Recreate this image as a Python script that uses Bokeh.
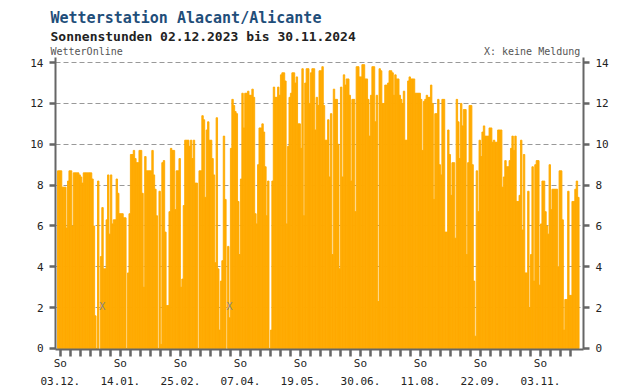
import numpy as np
from bokeh.plotting import figure
from bokeh.models import Range1d, FixedTicker, LinearAxis, Title, ColumnDataSource
from bokeh.embed import file_html
from bokeh.resources import INLINE
from bokeh.core.properties import value

title_text = "Wetterstation Alacant/Alicante"
subtitle_text = "Sonnenstunden 02.12.2023 bis 30.11.2024"
source_text = "WetterOnline"
missing_text = "X: keine Meldung"

# daily sunshine hours from 02.12.2023 (None = keine Meldung)
sun_hours = [
    8.7, 8.7, 8.7, 7.9, 7.9, 7.9, 5.9, 8.2, 8.7, 8.7, 6.0, 8.6, 8.6, 8.6, 8.6, 8.5, 8.4, 8.1, 8.6, 8.6,
    8.6, 8.6, 8.6, 8.6, 8.3, 6.0, 1.6, 0.0, 8.2, None,
    4.5, 6.9, 3.9, 3.9, 6.3, 8.5, 5.6, 8.5, 6.1, 6.3, 6.3, 8.3, 7.6, 6.6, 6.6, 6.6, 6.4, 6.4, 0.0, 3.7,
    6.6, 9.5, 9.5, 9.7, 9.3, 9.1, 9.1, 9.7, 9.7, 7.6, 3.0,
    9.4, 8.7, 8.7, 8.7, 8.7, 9.7, 8.5, 7.8, 6.5, 0.0, 7.7, 0.2, 9.1, 9.2, 5.7, 2.1, 2.1, 6.7, 9.8, 9.7,
    9.7, 6.8, 8.7, 8.7, 9.3, 3.0, 3.4, 7.0, 10.2, 10.2, 10.2, 9.9,
    10.2, 9.3, 10.2, 8.1, 8.1, 0.0, 8.7, 8.7, 11.4, 11.2, 7.4, 10.7, 11.1, 10.2, 10.2, 9.3, 8.5, 4.2,
    11.3, 3.9, 0.9, 3.3, 4.3, 10.4, 7.3, None, 5.0, 1.5, 9.8, 12.2,
    11.9, 11.6, 11.5, 7.2, 4.6, 8.3, 12.5, 10.8, 12.5, 12.5, 12.6, 12.4, 12.4, 12.7, 12.3, 6.6, 6.1, 9.0,
    10.8, 10.8, 11.0, 10.6, 8.9, 6.5, 8.2, 0.0, 0.9, 8.2, 12.8, 12.3, 12.3, 12.8,
    12.4, 13.4, 13.5, 13.5, 13.1, 6.1, 9.9, 12.3, 12.5, 13.5, 13.5, 13.0, 13.3, 11.0, 11.0, 9.8, 13.7,
    6.5, 13.0, 13.7, 13.7, 12.0, 13.5, 13.7, 13.7, 10.7, 12.3, 11.9, 13.6, 13.6, 13.8,
    11.9, 10.2, 10.2, 11.2, 8.4, 11.5, 4.6, 12.7, 12.2, 12.2, 10.0, 3.9, 12.8, 8.4, 13.4, 12.9, 13.2,
    13.2, 12.4, 8.2, 12.2, 12.2, 6.7, 13.8, 13.8, 13.3, 13.3, 13.9, 13.9, 13.2, 13.2, 12.2,
    10.4, 12.4, 13.8, 13.8, 11.1, 12.4, 2.3, 13.7, 13.6, 12.0, 12.0, 12.9, 12.9, 13.0, 13.6, 13.6, 13.5,
    12.4, 13.4, 13.2, 13.2, 12.4, 12.2, 12.0, 12.6, 10.2, 10.2, 13.1, 13.3, 13.2, 13.2,
    13.2, 12.5, 12.5, 12.5, 12.5, 12.2, 9.7, 12.1, 12.2, 12.4, 12.3, 12.3, 12.9, 12.0, 7.3, 11.5, 11.5,
    12.2, 9.0, 8.5, 12.2, 12.2, 5.7, 5.7, 10.7, 9.5, 7.5, 9.1, 9.1, 5.4, 12.2, 11.1,
    9.3, 12.0, 10.9, 11.7, 11.7, 4.6, 9.1, 11.9, 11.9, 9.0, 3.3, 0.6, 8.7, 6.7, 10.2, 9.4, 10.6, 10.9,
    10.4, 10.4, 10.4, 10.8, 10.8, 10.1, 10.2, 10.1, 10.1, 10.7, 10.7, 10.7, 7.9,
    8.4, 9.2, 8.9, 8.9, 9.2, 9.8, 10.4, 9.7, 10.4, 7.2, 7.2, 7.5, 10.2, 5.8, 9.5, 3.7, 3.7, 7.7, 2.0,
    4.6, 8.9, 3.3, 9.0, 9.2, 9.2, 3.1, 6.1, 8.2, 8.2, 6.7, 6.0,
    5.6, 9.0, 6.8, 7.8, 7.8, 7.8, 7.8, 4.0, 8.7, 8.7, 6.3, 0.9, 2.4, 2.4, 7.7, 2.6, 2.6, 7.2, 7.2, 7.8,
    8.2, 7.4,
]

# Sunday labels, one every six weeks, starting with the first Sunday (03.12.2023)
tick_labels = ["So\n03.12.", "So\n14.01.", "So\n25.02.", "So\n07.04.", "So\n19.05.",
               "So\n30.06.", "So\n11.08.", "So\n22.09.", "So\n03.11."]
y_ticks = [0, 2, 4, 6, 8, 10, 12, 14]

n = len(sun_hours)
vals = np.array([np.nan if v is None else v for v in sun_hours], dtype=float)
days = np.arange(n)
src = ColumnDataSource(dict(x=days + 0.5, top=vals))
miss = [i for i, v in enumerate(sun_hours) if v is None]

MONO = "DejaVu Sans Mono"
AX = "#666666"

p = figure(width=640, height=390, x_range=Range1d(-1.4, 368.1), y_range=Range1d(-0.05, 14.25),
           output_backend="svg", toolbar_location=None,
           min_border_left=55, min_border_right=57, min_border_top=57, min_border_bottom=40)
p.outline_line_color = None
p.background_fill_color = "white"
p.border_fill_color = "white"

p.vbar(x="x", top="top", bottom=0, width=1.0, source=src,
       fill_color="#FFAA00", line_color="#FFAA00", line_width=0.9)

p.text(x=[m + 0.3 for m in miss], y=[2.05] * len(miss), text=["X"] * len(miss),
       text_font=value(MONO), text_font_size="10px", text_color="#888888",
       text_align="left", text_baseline="middle")

# x axis: weekly ticks on Sundays, label every 6th
first_sunday = 1
week_ticks = [float(d + 1) for d in range(first_sunday, n, 7)]
overrides = {}
for k, t in enumerate(week_ticks):
    overrides[t] = tick_labels[k // 6] if k % 6 == 0 and k // 6 < len(tick_labels) else ""
xa = p.xaxis[0]
xa.ticker = FixedTicker(ticks=week_ticks)
xa.major_label_overrides = overrides
xa.minor_tick_line_color = None
xa.major_tick_in = 0
xa.major_tick_out = 7
xa.major_tick_line_width = 2.5
xa.major_tick_line_color = AX
xa.axis_line_color = AX
xa.axis_line_width = 2
xa.major_label_text_font = MONO
xa.major_label_text_font_size = "11px"
xa.major_label_text_color = "#222222"
xa.major_label_text_line_height = 1.4
xa.major_label_standoff = 0

ya = p.yaxis[0]
ra = LinearAxis()
p.add_layout(ra, "right")
for a in (ya, ra):
    a.ticker = FixedTicker(ticks=y_ticks)
    a.minor_tick_line_color = None
    a.major_tick_in = 0
    a.major_tick_out = 6
    a.major_tick_line_width = 2.5
    a.major_tick_line_color = AX
    a.axis_line_color = AX
    a.axis_line_width = 2
    a.major_label_text_font = MONO
    a.major_label_text_font_size = "11px"
    a.major_label_text_color = "#222222"
    a.major_label_standoff = 6

p.xgrid.grid_line_color = None
p.ygrid.ticker = FixedTicker(ticks=y_ticks[1:])
p.ygrid.grid_line_color = "#999999"
p.ygrid.grid_line_dash = "5 3"
p.ygrid.grid_line_width = 1

# header texts stacked above the frame (first added = closest to the frame)
gap = "\u00a0" * 60
p.add_layout(Title(text=source_text + gap + missing_text, align="left", offset=-5, standoff=1,
                   text_font=MONO, text_font_size="10px", text_font_style="normal",
                   text_color="#555555"), "above")
p.add_layout(Title(text=subtitle_text, align="left", offset=-5, standoff=0,
                   text_font=MONO, text_font_size="13px", text_font_style="bold",
                   text_color="#222222"), "above")
p.add_layout(Title(text=title_text, align="left", offset=-5, standoff=0,
                   text_font=MONO, text_font_size="15px", text_font_style="bold",
                   text_color="#1f4e7a"), "above")

open("out.html", "w").write(file_html(p, INLINE))
